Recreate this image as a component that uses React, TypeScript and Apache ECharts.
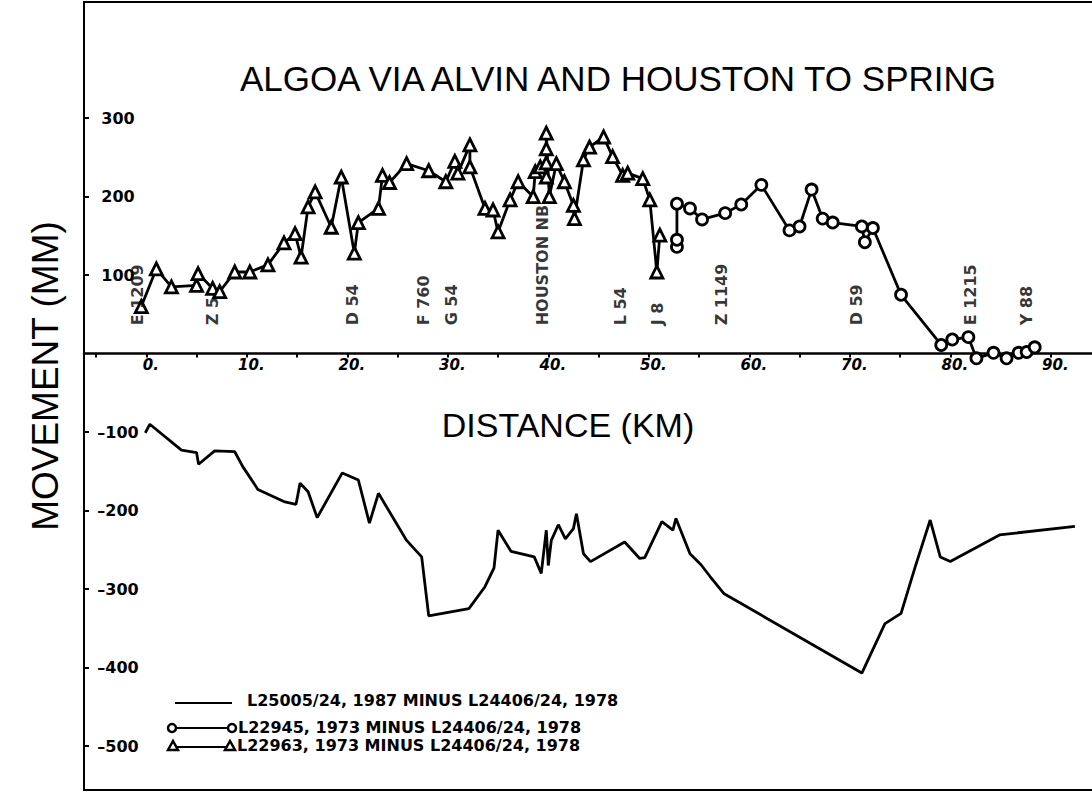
import React, { useEffect, useRef } from "react";
import * as echarts from "echarts";

// L22963, 1973 minus L24406/24, 1978 (triangles) [km, mm]
const triangleSeries: [number, number][] = [
  [-0.5, 60], [1.0, 108], [2.5, 85], [5.0, 87], [5.15, 102], [6.6, 83], [7.3, 79],
  [8.8, 104], [10.3, 104], [12.1, 113], [13.7, 141], [14.8, 153], [15.4, 123],
  [16.1, 187], [16.8, 206], [18.4, 161], [19.4, 225], [20.7, 128], [21.1, 167],
  [23.1, 185], [23.5, 227], [24.2, 218], [25.9, 242], [28.1, 233], [29.8, 219],
  [30.7, 245], [31.0, 230], [32.2, 266], [32.2, 238], [33.7, 185], [34.5, 183],
  [35.0, 155], [36.2, 196], [37.0, 219], [38.5, 200], [38.7, 232], [39.2, 238],
  [39.8, 225], [39.8, 243], [39.8, 261], [39.8, 281], [40.1, 200], [40.8, 242],
  [41.6, 219], [42.5, 189], [42.6, 172], [43.5, 247], [44.1, 263], [45.5, 276],
  [46.4, 251], [47.4, 227], [47.9, 230], [49.4, 223], [50.1, 196], [50.8, 104],
  [51.1, 151],
];

// L22945, 1973 minus L24406/24, 1978 (circles) [km, mm]
const circleSeries: [number, number][] = [
  [52.8, 136], [52.8, 145], [52.8, 191], [54.1, 185], [55.3, 171], [57.6, 179],
  [59.2, 190], [61.2, 215], [64.0, 157], [65.0, 162], [66.2, 209], [67.3, 172],
  [68.3, 167], [71.2, 162], [71.5, 142], [72.3, 160], [75.1, 75], [79.1, 11],
  [80.2, 18], [81.8, 21], [82.6, -6], [84.3, 1], [85.6, -6], [86.8, 1], [87.6, 2],
  [88.4, 8],
];

// L25005/24, 1987 minus L24406/24, 1978 (plain line) [km, mm]
const lineSeries: [number, number][] = [
  [-0.1, -101], [0.35, -90], [3.5, -123], [5.0, -126], [5.2, -141], [6.8, -124],
  [8.8, -125], [9.6, -144], [11.1, -173], [13.8, -189], [14.9, -192], [15.3, -165],
  [16.1, -176], [17.0, -209], [19.5, -152], [21.1, -161], [22.2, -216], [23.1, -178],
  [25.9, -238], [27.4, -259], [28.1, -334], [32.1, -325], [33.7, -297], [34.6, -273],
  [35.0, -225], [36.3, -252], [38.6, -259], [39.3, -280], [39.8, -225], [40.0, -270],
  [40.3, -238], [41.0, -218], [41.7, -236], [42.5, -223], [42.8, -204], [43.5, -255],
  [44.2, -265], [47.6, -240], [49.1, -261], [49.6, -260], [51.3, -214], [52.4, -225],
  [52.7, -210], [54.1, -255], [55.2, -269], [56.1, -284], [57.5, -306], [71.2, -407],
  [73.5, -344], [75.1, -331], [76.5, -272], [78.0, -212], [79.0, -259], [80.0, -265],
  [84.9, -231], [92.4, -220],
];

// Bench-mark station annotations
const stationNames = [
  "E 1209", "Z 5", "D 54", "F 760", "G 54", "HOUSTON NB", "L 54", "J 8",
  "Z 1149", "D 59", "E 1215", "Y 88",
];
const stationKm = [-0.9, 6.6, 20.5, 27.6, 30.4, 39.4, 47.2, 50.9, 57.2, 70.7, 82.0, 87.6];
const stationLabelMm = 36;

const yTickLabels = [300, 200, 100, -100, -200, -300, -400, -500];
const xTickLabels = [0, 10, 20, 30, 40, 50, 60, 70, 80, 90];
const xTicks = [-5, 0, 5, 10, 15, 20, 25, 30, 35, 40, 45, 50, 55, 60, 65, 70, 75, 80, 85, 90];
const xMin = -6.2;
const xMax = 94.3;
const yMin = -556;
const yMax = 448;

const titleText = "ALGOA VIA ALVIN AND HOUSTON TO SPRING";
const xAxisTitle = "DISTANCE (KM)";
const yAxisTitle = "MOVEMENT (MM)";
const legendLabels = [
  "L25005/24, 1987 MINUS L24406/24, 1978",
  "L22945, 1973 MINUS L24406/24, 1978",
  "L22963, 1973 MINUS L24406/24, 1978",
];

const BOLD = '"DejaVu Sans", sans-serif';
const THIN = '"Liberation Sans", Arial, sans-serif';

export default function App() {
  const ref = useRef<HTMLDivElement>(null);
  useEffect(() => {
    document.body.style.margin = "0";
    const chart = echarts.init(ref.current!, null, { renderer: "svg" });
    const markerStyle = { color: "#fff", borderColor: "#000", borderWidth: 2.8 };
    chart.setOption({
      animation: false,
      backgroundColor: "#fff",
      grid: {
        left: 84, right: -2, top: 2, bottom: 7, show: true,
        outerBoundsMode: "none", containLabel: false,
        borderColor: "#000", borderWidth: 2, backgroundColor: "transparent",
      },
      xAxis: {
        type: "value", min: xMin, max: xMax, splitNumber: 20,
        axisLine: { onZero: false, lineStyle: { color: "#000", width: 2.5 } },
        axisTick: { show: true, length: 4, customValues: xTicks, lineStyle: { color: "#000", width: 2 } },
        splitLine: { show: false },
        axisLabel: {
          customValues: xTickLabels, margin: 4,
          padding: [0, 0, 0, 9],
          color: "#000", fontFamily: BOLD, fontWeight: "bold", fontStyle: "italic", fontSize: 15,
          formatter: (v: number) => `${Math.round(v)}.`,
        },
      },
      yAxis: {
        type: "value", min: yMin, max: yMax, splitNumber: 10,
        axisLine: { show: true, onZero: false, lineStyle: { color: "#000", width: 2 } },
        axisTick: { show: true, inside: true, length: 5, customValues: yTickLabels, lineStyle: { color: "#000", width: 2 } },
        splitLine: { show: false },
        axisLabel: {
          inside: true, align: "center", margin: 34, customValues: yTickLabels,
          color: "#000", fontFamily: BOLD, fontWeight: "bold", fontSize: 16,
          formatter: (v: number) => {
            const r = Math.round(v);
            return r < 0 ? `\u2013${-r}` : `${r}`;
          },
        },
      },
      series: [
        {
          name: legendLabels[0], type: "line", data: lineSeries, showSymbol: false,
          lineStyle: { color: "#000", width: 2.8 }, z: 3,
        },
        {
          name: legendLabels[1], type: "line", data: circleSeries, symbol: "circle",
          symbolSize: 11, itemStyle: markerStyle, lineStyle: { color: "#000", width: 2.8 }, z: 4,
        },
        {
          name: legendLabels[2], type: "line", data: triangleSeries, symbol: "triangle",
          symbolSize: 12, itemStyle: markerStyle, lineStyle: { color: "#000", width: 2.8 }, z: 4,
        },
        {
          type: "scatter", silent: true, symbol: "circle", symbolSize: 0.1,
          itemStyle: { color: "transparent" },
          data: stationKm.map((k, i) => ({ value: [k, stationLabelMm], name: stationNames[i] })),
          label: {
            show: true, position: "inside", formatter: "{b}", rotate: 90,
            align: "left", verticalAlign: "middle",
            color: "#000", fontFamily: BOLD, fontWeight: "bold", fontSize: 16,
          },
          z: 5,
        },
      ],
      graphic: [
        {
          type: "text", x: 618, y: 78,
          style: { text: titleText, fill: "#000", font: `35px ${THIN}`, align: "center", verticalAlign: "middle" },
        },
        {
          type: "text", x: 568, y: 425,
          style: { text: xAxisTitle, fill: "#000", font: `34px ${THIN}`, align: "center", verticalAlign: "middle" },
        },
        {
          type: "text", x: 45, y: 376, rotation: Math.PI / 2,
          style: { text: yAxisTitle, fill: "#000", font: `37px ${THIN}`, align: "center", verticalAlign: "middle" },
        },
        // legend row 1
        { type: "line", shape: { x1: 175, y1: 703, x2: 232, y2: 703 }, style: { stroke: "#000", lineWidth: 2 } },
        {
          type: "text", x: 247, y: 700,
          style: { text: legendLabels[0], fill: "#000", font: `bold 16px ${BOLD}`, align: "left", verticalAlign: "middle" },
        },
        // legend row 2
        { type: "line", shape: { x1: 172, y1: 728, x2: 232, y2: 728 }, style: { stroke: "#000", lineWidth: 2 } },
        { type: "circle", shape: { cx: 172, cy: 728, r: 4 }, style: { fill: "#fff", stroke: "#000", lineWidth: 2.5 } },
        { type: "circle", shape: { cx: 232, cy: 728, r: 4 }, style: { fill: "#fff", stroke: "#000", lineWidth: 2.5 } },
        {
          type: "text", x: 238, y: 727,
          style: { text: legendLabels[1], fill: "#000", font: `bold 16px ${BOLD}`, align: "left", verticalAlign: "middle" },
        },
        // legend row 3
        { type: "line", shape: { x1: 173, y1: 747, x2: 230, y2: 747 }, style: { stroke: "#000", lineWidth: 2 } },
        { type: "polygon", shape: { points: [[173, 741], [168, 750], [178, 750]] }, style: { fill: "#fff", stroke: "#000", lineWidth: 2.5 } },
        { type: "polygon", shape: { points: [[230, 741], [225, 750], [235, 750]] }, style: { fill: "#fff", stroke: "#000", lineWidth: 2.5 } },
        {
          type: "text", x: 237, y: 745,
          style: { text: legendLabels[2], fill: "#000", font: `bold 16px ${BOLD}`, align: "left", verticalAlign: "middle" },
        },
      ],
    });
    // place the distance axis on the zero line, using the chart's own y scale
    const yZero = chart.convertToPixel({ yAxisIndex: 0 }, 0) as number;
    const yBottom = chart.convertToPixel({ yAxisIndex: 0 }, yMin) as number;
    chart.setOption({ xAxis: { offset: yZero - yBottom } });
    return () => chart.dispose();
  }, []);
  return <div ref={ref} style={{ width: 1092, height: 797 }} />;
}
